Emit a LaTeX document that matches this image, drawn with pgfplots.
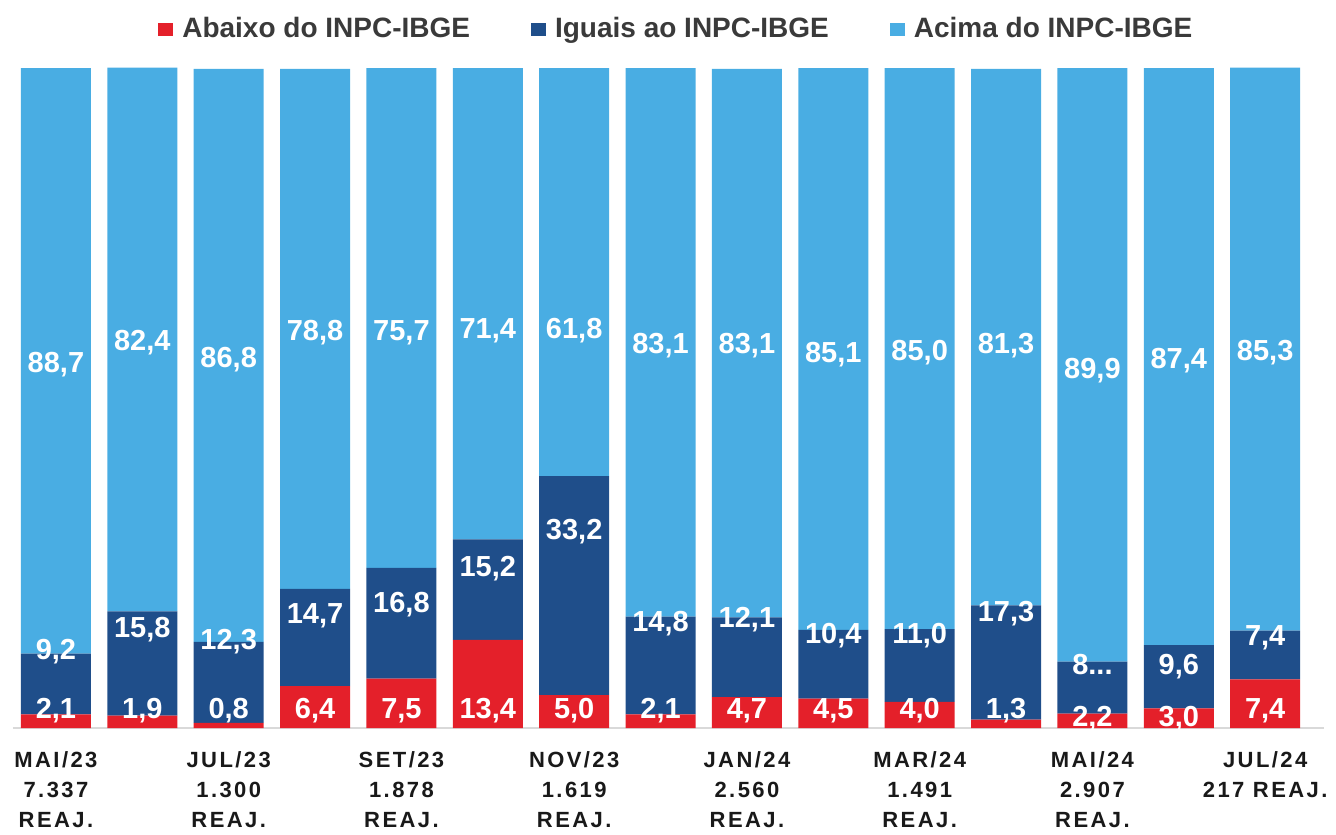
\documentclass[border=0pt]{standalone}
\usepackage{pgfplots}
\pgfplotsset{compat=1.18}
\usepackage{pgfplotstable}
\usepackage{fontspec}
\setmainfont{Liberation Sans}
\newfontfamily\tickfont[LetterSpace=11]{Liberation Sans}
\definecolor{cred}{HTML}{E4202A}
\definecolor{cdark}{HTML}{1F4E8A}
\definecolor{clight}{HTML}{49ADE3}
\definecolor{legtext}{HTML}{3A3A3A}

\pgfplotstableread{
x red dark light rl dl ll rt dt lt
0 2.1 9.2 88.7 3.0 12.0 55.5 2,1 9,2 88,7
1 1.9 15.8 82.4 3.0 15.3 58.8 1,9 15,8 82,4
2 0.8 12.3 86.8 3.0 13.5 56.2 0,8 12,3 86,8
3 6.4 14.7 78.8 3.0 17.4 60.3 6,4 14,7 78,8
4 7.5 16.8 75.7 3.0 19.1 60.3 7,5 16,8 75,7
5 13.4 15.2 71.4 3.0 24.5 60.6 13,4 15,2 71,4
6 5.0 33.2 61.8 3.0 30.2 60.6 5,0 33,2 61,8
7 2.1 14.8 83.1 3.0 16.2 58.3 2,1 14,8 83,1
8 4.7 12.1 83.1 3.0 16.8 58.3 4,7 12,1 83,1
9 4.5 10.4 85.1 3.0 14.4 57.0 4,5 10,4 85,1
10 4.0 11.0 85.0 3.0 14.4 57.3 4,0 11,0 85,0
11 1.3 17.3 81.3 3.0 17.7 58.3 1,3 17,3 81,3
12 2.2 7.9 89.9 1.8 9.7 54.5 2,2 8... 89,9
13 3.0 9.6 87.4 1.8 9.7 56.1 3,0 9,6 87,4
14 7.4 7.4 85.3 3.0 14.1 57.3 7,4 7,4 85,3
}\data

\pgfplotsset{
  common/.style={
    width=668pt, height=415.5pt, scale only axis,
    xmin=-0.648, xmax=14.82, ymin=-15.6, ymax=110.3,
    at={(0,0)}, anchor=south west,
  },
  lab/.style={
    draw=none, mark=none, nodes near coords,
    point meta=explicit symbolic,
    every node near coord/.style={anchor=base, yshift=-5.2pt, inner sep=0pt,
      text=white, font=\bfseries\fontsize{14.5}{16}\selectfont},
  },
}

\begin{document}
\begin{tikzpicture}
\begin{axis}[common, hide axis]
\addplot[draw=gray!30, line width=0.8pt, mark=none] coordinates {(-0.5,0) (14.68,0)};
\end{axis}
\begin{axis}[common,
  ybar stacked, bar width=35pt,
  axis line style={draw=none},
  major tick length=0pt,
  ytick=\empty,
  xtick={0,2,4,6,8,10,12,14},
  xticklabels={{MAI/23\\7.337\\REAJ.},{JUL/23\\1.300\\REAJ.},{SET/23\\1.878\\REAJ.},{NOV/23\\1.619\\REAJ.},{JAN/24\\2.560\\REAJ.},{MAR/24\\1.491\\REAJ.},{MAI/24\\2.907\\REAJ.},{JUL/24\\217 REAJ.}},
  xticklabel style={anchor=north, yshift=43.5pt, align=center, text=black!90,
    font=\tickfont\bfseries\fontsize{11}{15}\selectfont},
  legend columns=3,
  legend image code/.code={\fill[#1] (0pt,-3.3pt) rectangle (7.5pt,3.3pt);},
  legend style={at={(axis cs:1.18,105.9)}, anchor=west, draw=none, fill=none,
    inner sep=0pt, text=legtext,
    font=\bfseries\fontsize{14}{16}\selectfont,
    nodes={inner xsep=0pt, inner ysep=1pt},
    /tikz/every odd column/.append style={column sep=4.5pt},
    /tikz/every even column/.append style={column sep=30.5pt}},
]
\addplot[fill=cred, draw=none] table[x=x, y=red] {\data};
\addplot[fill=cdark, draw=none] table[x=x, y=dark] {\data};
\addplot[fill=clight, draw=none] table[x=x, y=light] {\data};
\legend{Abaixo do INPC-IBGE, Iguais ao INPC-IBGE, Acima do INPC-IBGE}
\end{axis}
\begin{axis}[common, hide axis]
\addplot[lab] table[x=x, y=rl, meta=rt] {\data};
\addplot[lab] table[x=x, y=dl, meta=dt] {\data};
\addplot[lab] table[x=x, y=ll, meta=lt] {\data};
\end{axis}
\end{tikzpicture}
\end{document}
